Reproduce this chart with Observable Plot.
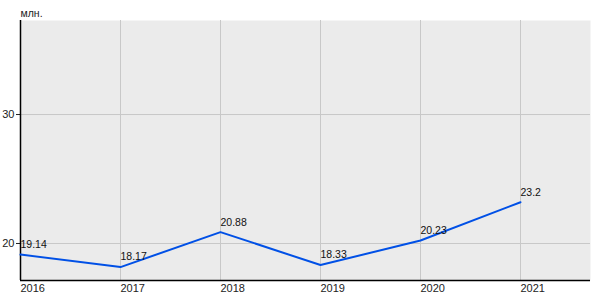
<!DOCTYPE html>
<html>
<head>
<meta charset="utf-8">
<script src="https://cdn.jsdelivr.net/npm/d3@7"></script>
<script src="https://cdn.jsdelivr.net/npm/@observablehq/plot@0.6"></script>
<style>
  html, body { margin: 0; padding: 0; background: #fff; }
  svg { display: block; }
</style>
</head>
<body>
<div id="chart"></div>
<script>
const years = [2016, 2017, 2018, 2019, 2020, 2021];
const values = [19.14, 18.17, 20.88, 18.33, 20.23, 23.2];
const labels = ["19.14", "18.17", "20.88", "18.33", "20.23", "23.2"];
const yTicks = [20, 30];
const unitLabel = "млн.";

const data = years.map((y, i) => ({ year: y, value: values[i], label: labels[i] }));
const xDomain = [2016, 2021.7];
const yDomain = [17.13, 37.29];

const chart = Plot.plot({
  width: 600,
  height: 300,
  marginLeft: 20,
  marginRight: 10,
  marginTop: 20,
  marginBottom: 20,
  style: { fontFamily: "'Liberation Sans', Arial, sans-serif", fontSize: "11px", color: "#222", background: "#fff" },
  x: { domain: xDomain },
  y: { domain: yDomain },
  marks: [
    Plot.frame({ fill: "#ebebeb", stroke: null }),
    Plot.gridX(years, { stroke: "#c8c8c8", strokeOpacity: 1 }),
    Plot.gridY(yTicks, { stroke: "#c8c8c8", strokeOpacity: 1 }),
    Plot.axisX(years, { tickSize: 0, tickPadding: 4, textAnchor: "start", tickFormat: d => String(d), label: null, fontSize: 11 }),
    Plot.axisY(yTicks, { tickSize: 4, tickPadding: 2, label: null, fontSize: 11 }),
    Plot.ruleX([xDomain[0]], { stroke: "#000", strokeWidth: 1.5 }),
    Plot.ruleY([yDomain[0]], { stroke: "#000", strokeWidth: 1.5 }),
    Plot.line(data, { x: "year", y: "value", stroke: "#0050e6", strokeWidth: 2 }),
    Plot.text(data, { x: "year", y: "value", text: "label", textAnchor: "start", dy: -10, fill: "#111", fontSize: 10.5 }),
    Plot.text([unitLabel], { frameAnchor: "top-left", lineAnchor: "middle", dy: -7, dx: 0, textAnchor: "start", fill: "#222", fontSize: 10.5 })
  ]
});
document.getElementById("chart").appendChild(chart);
</script>
</body>
</html>
